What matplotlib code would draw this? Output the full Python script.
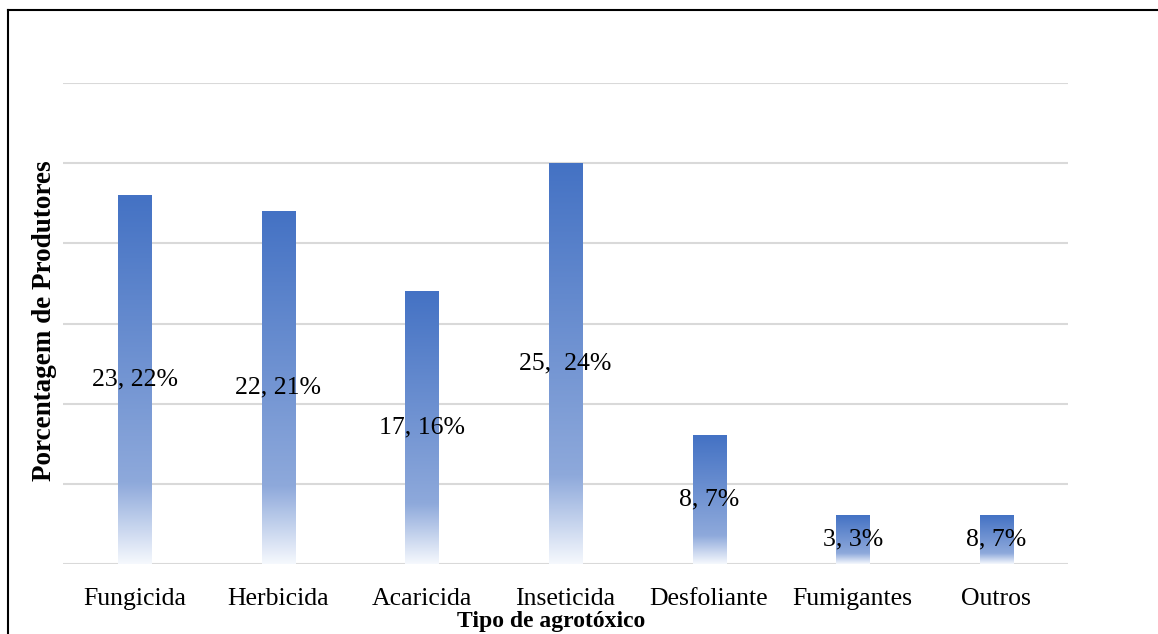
import numpy as np
import matplotlib
matplotlib.use("Agg")
import matplotlib.pyplot as plt
from matplotlib.colors import LinearSegmentedColormap
from matplotlib.lines import Line2D

categories = ["Fungicida", "Herbicida", "Acaricida", "Inseticida",
              "Desfoliante", "Fumigantes", "Outros"]
values = [23, 22, 17, 25, 8, 3, 3]
labels = ["23, 22%", "22, 21%", "17, 16%", "25,  24%", "8, 7%", "3, 3%", "8, 7%"]
yticks = [0, 5, 10, 15, 20, 25, 30]

plt.rcParams['font.family'] = ['Liberation Serif', 'DejaVu Serif']

fig = plt.figure(figsize=(11.58, 6.34), dpi=100)
ax = fig.add_axes([63/1158, 1-564/634, (1068-63)/1158, (564-83)/634])

cmap = LinearSegmentedColormap.from_list(
    'grad', [(0.0, '#F5F8FD'), (0.22, '#8EA9DB'), (1.0, '#4472C4')])
grad = np.linspace(0, 1, 256).reshape(-1, 1)

x = np.arange(len(categories))
bars = ax.bar(x, values, width=0.23, color='none', edgecolor='none', zorder=2)
for b in bars:
    x0, y0, w, h = b.get_x(), b.get_y(), b.get_width(), b.get_height()
    ax.imshow(grad, extent=[x0, x0 + w, y0, y0 + h], origin='lower',
              cmap=cmap, aspect='auto', zorder=2, interpolation='bilinear')

for xi, v, lab in zip(x, values, labels):
    ax.text(xi, v / 2, lab, ha='center', va='center', fontsize=18.5,
            color='black', zorder=3)

ax.set_xlim(-0.5, len(categories) - 0.5)
ax.set_ylim(0, 30)
ax.set_yticks(yticks)
ax.set_yticklabels([])
ax.tick_params(axis='y', length=0)
ax.tick_params(axis='x', length=0, pad=17, labelsize=18.5)
ax.set_xticks(x)
ax.set_xticklabels(categories)
ax.yaxis.grid(True, color='#d9d9d9', linewidth=1.5, zorder=0)
ax.set_axisbelow(True)
for s in ax.spines.values():
    s.set_visible(False)

ax.set_xlabel("Tipo de agrotóxico", fontsize=17, fontweight='bold')
ax.xaxis.label.set_va('center')
ax.xaxis.set_label_coords((551-63)/1005, -(621-564)/481)
ax.set_ylabel("Porcentagem de Produtores", fontsize=19.5, fontweight='bold')
ax.yaxis.label.set_va('center')
ax.yaxis.set_label_coords((45-63)/1005, (564-321)/481)

fig.add_artist(Line2D([8/1158, 1], [1-10/634, 1-10/634], transform=fig.transFigure,
                      color='black', lw=1.5))
fig.add_artist(Line2D([8/1158, 8/1158], [0, 1-10/634], transform=fig.transFigure,
                      color='black', lw=1.5))

fig.savefig("out.png", dpi=100, facecolor='white')
